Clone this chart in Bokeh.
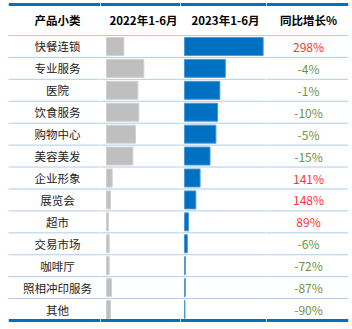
from bokeh.plotting import figure
from bokeh.layouts import row
from bokeh.models import Range1d, Span, Label, ColumnDataSource
from bokeh.core.properties import value
from bokeh.embed import file_html
from bokeh.resources import INLINE

# ---- data ----
categories = ["快餐连锁", "专业服务", "医院", "饮食服务", "购物中心", "美容美发",
              "企业形象", "展览会", "超市", "交易市场", "咖啡厅", "照相冲印服务", "其他"]
values_2022 = [520, 1120, 940, 970, 870, 790, 170, 120, 55, 80, 80, 150, 120]
values_2023 = [2070, 1075, 930, 873, 827, 672, 410, 298, 104, 75, 22, 20, 12]
growth_pct = [298, -4, -1, -10, -5, -15, 141, 148, 89, -6, -72, -87, -90]
headers = ["产品小类", "2022年1-6月", "2023年1-6月", "同比增长%"]

FONT = "Noto Sans CJK SC"
BLUE = "#0070C0"
n = len(categories)
rows_idx = list(range(n))
y_centers = [i + 0.5 for i in rows_idx]
header_h = 1.414
y_range = Range1d(13.41, -1.596)


def make_fig(width, x_range, left=0, right=0):
    f = figure(width=width, height=329, x_range=x_range, y_range=y_range,
               output_backend="svg", toolbar_location=None,
               min_border_left=left, min_border_right=right,
               min_border_top=0, min_border_bottom=0)
    f.axis.visible = False
    f.xaxis.visible = False
    f.yaxis.visible = False
    f.grid.visible = False
    f.outline_line_color = None
    f.background_fill_color = "white"
    f.border_fill_color = "white"
    for b in range(0, n):
        f.add_layout(Span(location=b, dimension="width", line_color="#5B9BD5",
                          line_width=1, line_dash="1 1"))
    f.add_layout(Span(location=-header_h, dimension="width", line_color=BLUE, line_width=3))
    f.add_layout(Span(location=n, dimension="width", line_color=BLUE, line_width=3))
    return f


def header(f, text, xs):
    f.add_layout(Label(x=xs, x_units="screen", y=-header_h / 2, text=text,
                       text_align="center", text_baseline="middle",
                       text_font=FONT, text_font_size="11.5px",
                       text_font_style="bold", text_color="#000000"))


# column 1: names
f1 = make_fig(100, Range1d(0, 92), left=8)
header(f1, headers[0], 49)
src1 = ColumnDataSource(dict(y=y_centers, t=categories, x=[49] * n))
f1.text(x="x", y="y", text="t", source=src1, text_align="center",
        text_baseline="middle", text_font=value(FONT), text_font_size="11.5px",
        text_color="#222222")

# column 2: 2022 bars
f2 = make_fig(80, Range1d(-180, 2220))
header(f2, headers[1], 43)
src2 = ColumnDataSource(dict(y=y_centers, v=values_2022))
f2.hbar(y="y", left=0, right="v", height=0.82, source=src2,
        fill_color="#BFBFBF", line_color="#D0D0D0", line_width=1)

# column 3: 2023 bars
f3 = make_fig(86, Range1d(-105, 2158))
header(f3, headers[2], 45)
src3 = ColumnDataSource(dict(y=y_centers, v=values_2023))
f3.hbar(y="y", left=0, right="v", height=0.82, source=src3,
        fill_color=BLUE, line_color="#4A98D8", line_width=1)

# column 4: growth
f4 = make_fig(86, Range1d(0, 82), right=4)
header(f4, headers[3], 42)
labels = [f"{g}%" for g in growth_pct]
colors = ["#FF3333" if g > 0 else "#6E9240" for g in growth_pct]
src4 = ColumnDataSource(dict(y=y_centers, t=labels, c=colors, x=[42] * n))
f4.text(x="x", y="y", text="t", source=src4, text_align="center",
        text_baseline="middle", text_font=value(FONT), text_font_size="12px",
        text_color="c")

p = row(f1, f2, f3, f4, spacing=0)
open("out.html", "w").write(file_html(p, INLINE))
